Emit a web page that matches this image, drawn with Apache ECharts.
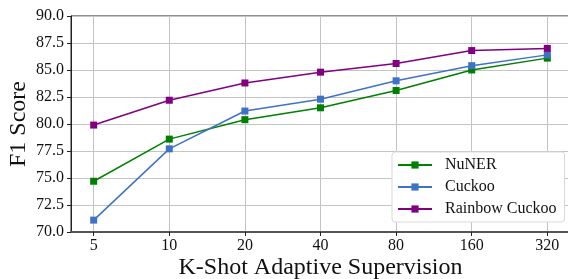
<!DOCTYPE html>
<html>
<head>
<meta charset="utf-8">
<script src="https://cdn.jsdelivr.net/npm/echarts@6/dist/echarts.min.js"></script>
<style>
  html, body { margin: 0; padding: 0; background: #fff; }
  #chart { width: 568px; height: 279px; }
</style>
</head>
<body>
<div id="chart"></div>
<script>
// K-shot settings (x categories)
var shots = ["5", "10", "20", "40", "80", "160", "320"];
var yTicks = [70, 72.5, 75, 77.5, 80, 82.5, 85, 87.5, 90];

// F1 scores
var nuner = [74.7, 78.6, 80.4, 81.5, 83.1, 85.0, 86.1];
var cuckoo = [71.1, 77.7, 81.2, 82.3, 84.0, 85.4, 86.4];
var rainbow = [79.9, 82.2, 83.8, 84.8, 85.6, 86.8, 87.0];

var idx = shots.map(function (s, i) { return i; });
function pairs(arr) {
  return arr.map(function (v, i) { return [i, v]; });
}

var font = "'Liberation Serif', 'DejaVu Serif', serif";
var chart = echarts.init(document.getElementById("chart"));

function lineSeries(name, color, data) {
  return {
    name: name,
    type: "line",
    data: pairs(data),
    symbol: "rect",
    symbolSize: 7,
    lineStyle: { color: color, width: 1.5 },
    itemStyle: { color: color },
    animation: false
  };
}

chart.setOption({
  animation: false,
  grid: {
    left: 71,
    top: 16,
    right: -2,
    bottom: 47,
    containLabel: false,
    outerBoundsMode: "none",
    show: true,
    borderColor: "#222",
    borderWidth: 1
  },
  legend: {
    orient: "vertical",
    left: 392,
    top: 152,
    width: 170,
    padding: [5, 8, 5, 5],
    itemGap: 6,
    itemWidth: 34,
    itemHeight: 9,
    backgroundColor: "#fff",
    borderColor: "#d9d9d9",
    borderWidth: 1,
    borderRadius: 3,
    textStyle: {
      fontFamily: font,
      fontSize: 16,
      color: "#111",
      padding: [0, 0, 0, 8]
    },
    data: ["NuNER", "Cuckoo", "Rainbow Cuckoo"]
  },
  xAxis: {
    type: "value",
    min: -0.3,
    max: 6.3,
    name: "K-Shot Adaptive Supervision",
    nameLocation: "middle",
    nameGap: 24,
    nameMoveOverlap: false,
    nameTextStyle: { fontFamily: font, fontSize: 24, color: "#111" },
    axisLine: { show: true, onZero: false, lineStyle: { color: "#555", width: 2 } },
    axisTick: {
      show: true,
      customValues: idx,
      length: 4,
      lineStyle: { color: "#222" }
    },
    axisLabel: {
      customValues: idx,
      margin: 6,
      fontFamily: font,
      fontSize: 16,
      color: "#111",
      formatter: function (v) { return shots[Math.round(v)]; }
    },
    splitLine: { show: true, lineStyle: { color: "#c4c4c4", width: 1 } }
  },
  yAxis: {
    type: "value",
    min: 70,
    max: 90,
    interval: 2.5,
    name: "F1 Score",
    nameLocation: "middle",
    nameGap: 40,
    nameMoveOverlap: false,
    nameTextStyle: { fontFamily: font, fontSize: 24, color: "#111" },
    axisLine: { show: true, onZero: false, lineStyle: { color: "#222", width: 1 } },
    axisTick: { show: true, length: 4, lineStyle: { color: "#222" } },
    axisLabel: {
      margin: 7,
      fontFamily: font,
      fontSize: 16,
      color: "#111",
      formatter: function (v) { return v.toFixed(1); }
    },
    splitLine: { show: true, lineStyle: { color: "#c4c4c4", width: 1 } }
  },
  series: [
    lineSeries("NuNER", "#008000", nuner),
    lineSeries("Cuckoo", "#3f72c6", cuckoo),
    lineSeries("Rainbow Cuckoo", "#800080", rainbow)
  ]
});
</script>
</body>
</html>
